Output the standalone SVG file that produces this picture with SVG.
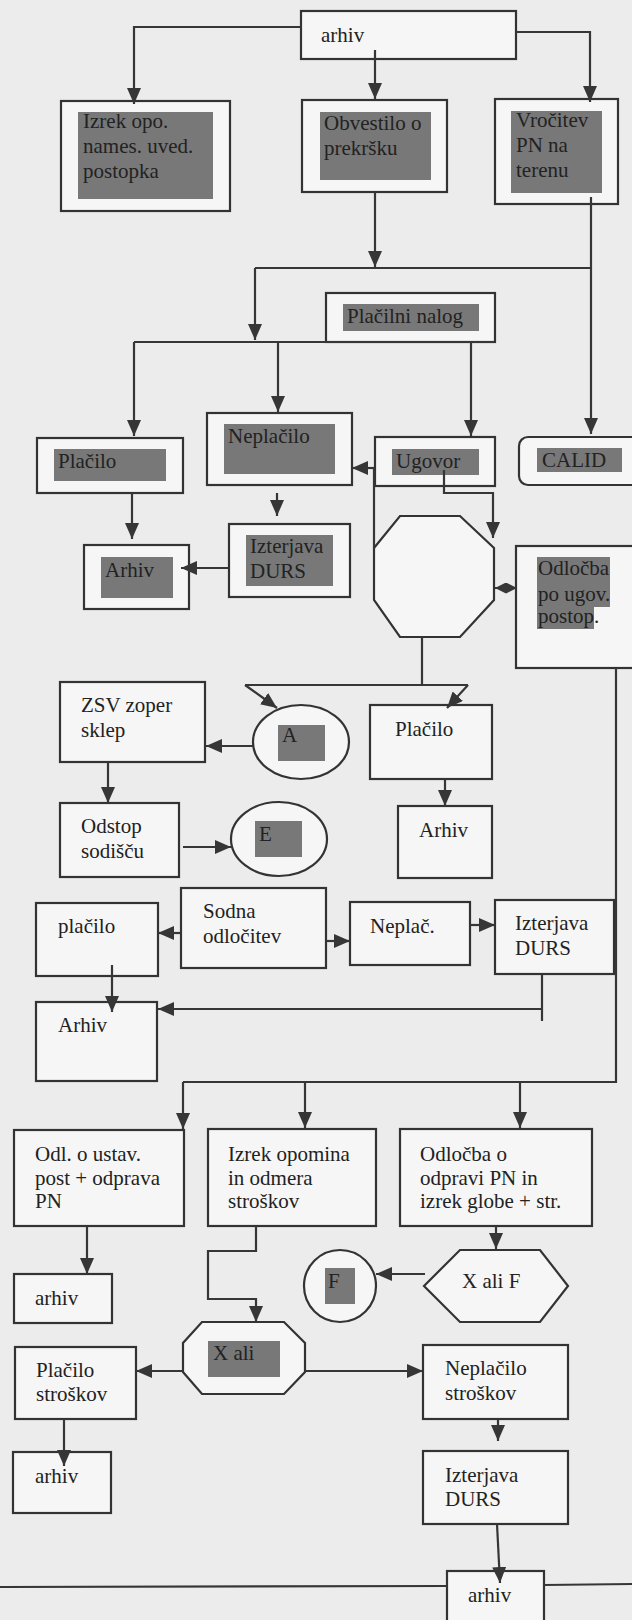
<svg xmlns="http://www.w3.org/2000/svg" width="632" height="1620" viewBox="0 0 632 1620">
<defs>
<style>
.bx{fill:#f6f6f6;stroke:#333;stroke-width:2.2}
.gr{fill:#787878;stroke:none}
.t{font-family:"Liberation Serif","Times New Roman",serif;font-size:21px;fill:#222}
.c{fill:none;stroke:#363636;stroke-width:2.2}
.a{marker-end:url(#ah)}
</style>
<marker id="ah" viewBox="0 0 16 14" refX="16" refY="7" markerWidth="16" markerHeight="14" markerUnits="userSpaceOnUse" orient="auto"><path d="M0,0 L16,7 L0,14 Z" fill="#363636"/></marker>
<marker id="sa" viewBox="0 0 12 12" refX="12" refY="6" markerWidth="11" markerHeight="11" markerUnits="userSpaceOnUse" orient="auto-start-reverse"><path d="M0,0 L12,6 L0,12 Z" fill="#363636"/></marker>
</defs>
<rect x="0" y="0" width="632" height="1620" fill="#ececec"/>

<g id="n-arhiv-top"><rect class="bx" x="301" y="11" width="215" height="48"/><text class="t" x="321" y="42">arhiv</text></g>
<g id="n-izrek"><rect class="bx" x="61" y="101" width="169" height="110"/><rect class="gr" x="78" y="112" width="135" height="87"/><text class="t" x="83" y="128">Izrek opo.</text><text class="t" x="83" y="153">names. uved.</text><text class="t" x="83" y="178">postopka</text></g>
<g id="n-obvestilo"><rect class="bx" x="302" y="100" width="145" height="92"/><rect class="gr" x="320" y="112" width="111" height="68"/><text class="t" x="324" y="130">Obvestilo o</text><text class="t" x="324" y="155">prekršku</text></g>
<g id="n-vrocitev"><rect class="bx" x="495" y="99" width="123" height="105"/><rect class="gr" x="511" y="111" width="91" height="82"/><text class="t" x="516" y="127">Vročitev</text><text class="t" x="516" y="152">PN na</text><text class="t" x="516" y="177">terenu</text></g>
<g id="n-placilni"><rect class="bx" x="326" y="293" width="169" height="49"/><rect class="gr" x="343" y="304" width="136" height="27"/><text class="t" x="347" y="323">Plačilni nalog</text></g>
<g id="n-placilo1"><rect class="bx" x="37" y="438" width="146" height="55"/><rect class="gr" x="54" y="449" width="112" height="32"/><text class="t" x="58" y="468">Plačilo</text></g>
<g id="n-neplacilo1"><rect class="bx" x="207" y="413" width="145" height="72"/><rect class="gr" x="224" y="424" width="111" height="50"/><text class="t" x="228" y="443">Neplačilo</text></g>
<g id="n-ugovor"><rect class="bx" x="375" y="437" width="120" height="49"/><rect class="gr" x="392" y="449" width="87" height="26"/><text class="t" x="396" y="468">Ugovor</text></g>
<g id="n-calid"><rect class="bx" x="519" y="437" width="125" height="48" rx="9"/><rect class="gr" x="537" y="448" width="85" height="24"/><text class="t" x="542" y="467">CALID</text></g>
<g id="n-arhiv1"><rect class="bx" x="84" y="545" width="105" height="64"/><rect class="gr" x="101" y="557" width="72" height="41"/><text class="t" x="105" y="577">Arhiv</text></g>
<g id="n-izterjava1"><rect class="bx" x="229" y="524" width="121" height="73"/><rect class="gr" x="246" y="535" width="87" height="51"/><text class="t" x="250" y="553">Izterjava</text><text class="t" x="250" y="578">DURS</text></g>
<g id="n-octagon"><polygon class="bx" points="400,516 460,516 494,548 494,600 460,637 400,637 374,600 374,548"/></g>
<g id="n-odlocba-ugov"><rect class="bx" x="516" y="546" width="130" height="122"/><path class="gr" d="M537,557 H610 V607 H594 V629 H537 Z"/><text class="t" x="538" y="575">Odločba</text><text class="t" x="538" y="601">po ugov.</text><text class="t" x="538" y="623">postop.</text></g>
<g id="n-zsv"><rect class="bx" x="60" y="682" width="145" height="80"/><text class="t" x="81" y="712">ZSV zoper</text><text class="t" x="81" y="737">sklep</text></g>
<g id="n-a"><ellipse class="bx" cx="301" cy="742" rx="48" ry="37"/><rect class="gr" x="278" y="725" width="47" height="36"/><text class="t" x="282" y="742">A</text></g>
<g id="n-placilo2"><rect class="bx" x="370" y="705" width="122" height="74"/><text class="t" x="395" y="736">Plačilo</text></g>
<g id="n-arhiv2"><rect class="bx" x="398" y="806" width="94" height="72"/><text class="t" x="419" y="837">Arhiv</text></g>
<g id="n-odstop"><rect class="bx" x="60" y="803" width="119" height="74"/><text class="t" x="81" y="833">Odstop</text><text class="t" x="81" y="858">sodišču</text></g>
<g id="n-e"><ellipse class="bx" cx="279" cy="839" rx="48" ry="37"/><rect class="gr" x="255" y="821" width="47" height="36"/><text class="t" x="259" y="841">E</text></g>
<g id="n-sodna"><rect class="bx" x="181" y="888" width="145" height="80"/><text class="t" x="203" y="918">Sodna</text><text class="t" x="203" y="943">odločitev</text></g>
<g id="n-placilo3"><rect class="bx" x="36" y="903" width="122" height="73"/><text class="t" x="58" y="933">plačilo</text></g>
<g id="n-neplac"><rect class="bx" x="350" y="902" width="120" height="63"/><text class="t" x="370" y="933">Neplač.</text></g>
<g id="n-izterjava2"><rect class="bx" x="495" y="900" width="119" height="74"/><text class="t" x="515" y="930">Izterjava</text><text class="t" x="515" y="955">DURS</text></g>
<g id="n-arhiv3"><rect class="bx" x="36" y="1002" width="121" height="79"/><text class="t" x="58" y="1032">Arhiv</text></g>
<g id="n-odl"><rect class="bx" x="14" y="1130" width="170" height="96"/><text class="t" x="35" y="1161">Odl. o ustav.</text><text class="t" x="35" y="1185">post + odprava</text><text class="t" x="35" y="1208">PN</text></g>
<g id="n-opomin"><rect class="bx" x="208" y="1129" width="168" height="97"/><text class="t" x="228" y="1161">Izrek opomina</text><text class="t" x="228" y="1185">in odmera</text><text class="t" x="228" y="1208">stroškov</text></g>
<g id="n-odlocba-o"><rect class="bx" x="400" y="1129" width="192" height="97"/><text class="t" x="420" y="1161">Odločba o</text><text class="t" x="420" y="1185">odpravi PN in</text><text class="t" x="420" y="1208">izrek globe + str.</text></g>
<g id="n-arhiv4"><rect class="bx" x="14" y="1274" width="98" height="49"/><text class="t" x="35" y="1305">arhiv</text></g>
<g id="n-xalif"><polygon class="bx" points="424,1286 460,1250 540,1250 568,1286 540,1322 460,1322"/><text class="t" x="462" y="1288">X ali F</text></g>
<g id="n-f"><circle class="bx" cx="340" cy="1286" r="36"/><rect class="gr" x="325" y="1268" width="30" height="36"/><text class="t" x="328" y="1288">F</text></g>
<g id="n-xali"><polygon class="bx" points="202,1322 284,1322 305,1343 305,1372 284,1394 202,1394 183,1372 183,1343"/><rect class="gr" x="208" y="1341" width="72" height="36"/><text class="t" x="213" y="1360">X ali</text></g>
<g id="n-placilo-str"><rect class="bx" x="15" y="1347" width="121" height="72"/><text class="t" x="36" y="1377">Plačilo</text><text class="t" x="36" y="1401">stroškov</text></g>
<g id="n-arhiv5"><rect class="bx" x="13" y="1452" width="98" height="61"/><text class="t" x="35" y="1483">arhiv</text></g>
<g id="n-neplacilo-str"><rect class="bx" x="423" y="1345" width="145" height="74"/><text class="t" x="445" y="1375">Neplačilo</text><text class="t" x="445" y="1400">stroškov</text></g>
<g id="n-izterjava3"><rect class="bx" x="423" y="1451" width="145" height="73"/><text class="t" x="445" y="1482">Izterjava</text><text class="t" x="445" y="1506">DURS</text></g>
<g id="n-arhiv6"><rect class="bx" x="447" y="1571" width="97" height="60"/><text class="t" x="468" y="1602">arhiv</text></g>

<g id="connectors">
<polyline class="c a" points="301,27 134,27 134,104"/>
<polyline class="c a" points="375,50 375,99"/>
<polyline class="c a" points="516,32 590,32 590,102"/>
<polyline class="c a" points="375,192 375,267"/>
<polyline class="c" points="255,268 591,268"/>
<polyline class="c a" points="591,197 591,434"/>
<polyline class="c a" points="255,268 255,340"/>
<polyline class="c" points="134,342 495,342"/>
<polyline class="c a" points="134,342 134,436"/>
<polyline class="c a" points="278,342 278,412"/>
<polyline class="c a" points="471,342 471,436"/>
<polyline class="c a" points="375,468 352,468"/>
<polyline class="c" points="374,468 374,548"/>
<polyline class="c a" points="444,470 444,493 493,493 493,538"/>
<polyline class="c a" points="132,493 132,539"/>
<polyline class="c a" points="277,493 277,516"/>
<polyline class="c a" points="229,568 181,568"/>
<line x1="495" y1="588" x2="517" y2="588" stroke="#363636" stroke-width="2" marker-start="url(#sa)" marker-end="url(#sa)"/>
<polyline class="c" points="422,637 422,685"/>
<polyline class="c" points="245,685 468,685"/>
<polyline class="c a" points="245,685 277,708"/>
<polyline class="c a" points="468,685 447,708"/>
<polyline class="c a" points="253,746 206,746"/>
<polyline class="c a" points="108,762 108,803"/>
<polyline class="c a" points="183,847 231,847"/>
<polyline class="c a" points="445,779 445,806"/>
<polyline class="c" points="616,668 616,1082 183,1082"/>
<polyline class="c a" points="183,1082 183,1129"/>
<polyline class="c a" points="305,1082 305,1128"/>
<polyline class="c a" points="520,1082 520,1128"/>
<polyline class="c a" points="181,933 158,933"/>
<polyline class="c a" points="326,941 350,941"/>
<polyline class="c a" points="470,925 495,925"/>
<polyline class="c" points="542,974 542,1021"/>
<polyline class="c a" points="543,1009 158,1009"/>
<polyline class="c a" points="112,965 112,1012"/>
<polyline class="c a" points="87,1226 87,1274"/>
<polyline class="c a" points="256,1226 256,1251 208,1251 208,1299 256,1299 256,1322"/>
<polyline class="c a" points="496,1226 496,1249"/>
<polyline class="c a" points="425,1274 376,1274"/>
<polyline class="c a" points="183,1371 136,1371"/>
<polyline class="c a" points="305,1371 423,1371"/>
<polyline class="c a" points="64,1419 64,1466"/>
<polyline class="c a" points="498,1419 498,1441"/>
<polyline class="c a" points="497,1524 500,1583"/>
<polyline class="c" points="0,1587 447,1586"/>
<polyline class="c" points="544,1585 632,1584"/>
</g>
</svg>
